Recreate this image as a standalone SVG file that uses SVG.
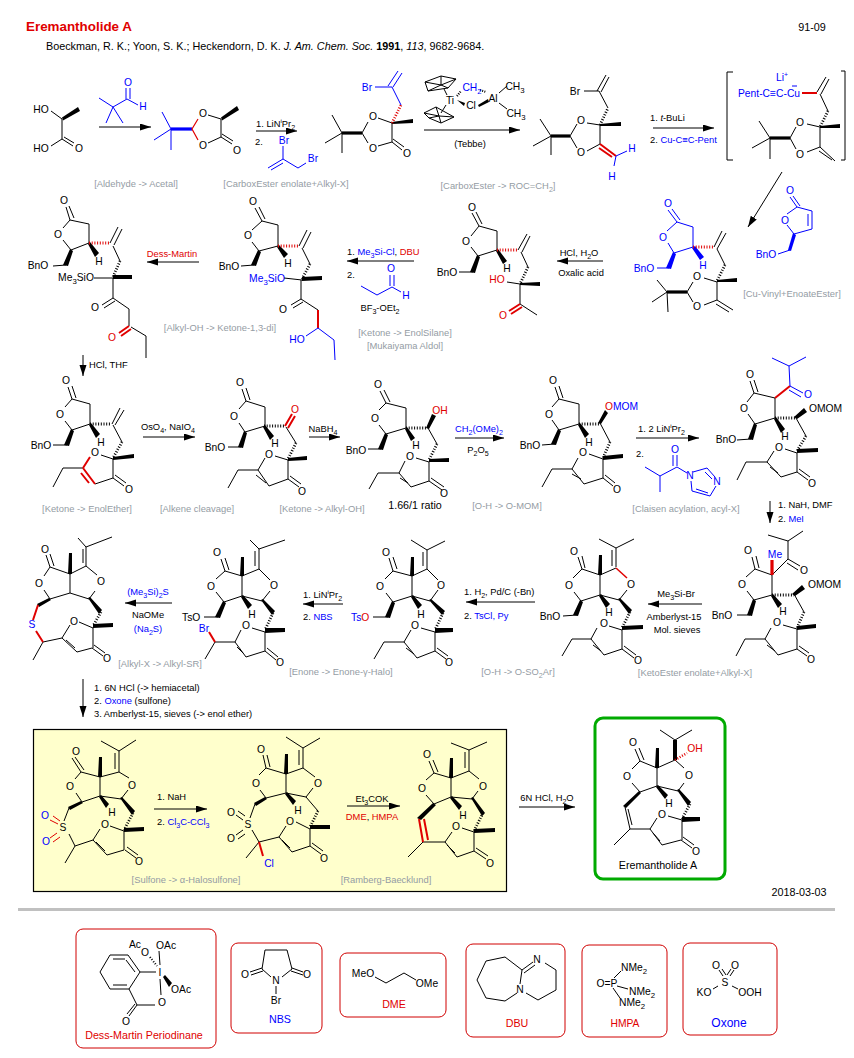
<svg xmlns="http://www.w3.org/2000/svg" width="854" height="1058" viewBox="0 0 854 1058">
<defs>
<marker id="ah" markerUnits="userSpaceOnUse" markerWidth="12" markerHeight="8" refX="11" refY="3.5" orient="auto"><path class="ah" d="M0 0L11 3.5L0 7Z"/></marker>
</defs>
<style>
text{font-family:"Liberation Sans",Arial,sans-serif;font-size:10.3px;fill:#000}
.a{text-anchor:middle}
.g{fill:#949ca4;text-anchor:middle;font-size:9.4px}
.c text{font-size:9.35px}
.hd{font-size:10.8px}
.L{font-size:10.7px}
.B{fill:#00f}.R{fill:#e00000}
.s{font-size:76%;baseline-shift:-3px}
.u{font-size:66%;baseline-shift:4px}
path{fill:none;stroke:#000;stroke-width:1}
path.ah{fill:#000;stroke:none}
path.w{fill:#000;stroke:none}
path.h{stroke-width:2.8;stroke-dasharray:1 1.7}
path.t{stroke-width:3.2}
path.b{stroke:#00f}path.bt{stroke:#00f;stroke-width:3.2}
path.r{stroke:#e00000;stroke-width:2}
path.rt{stroke:#e00000;stroke-width:3.2}
path.rh{stroke:#e00000;stroke-width:2.8;stroke-dasharray:1 1.7}
path.rn{stroke:#e00000;stroke-width:1}
path.ar{marker-end:url(#ah)}
rect.box{fill:#fff;stroke:#d00000;stroke-width:1}
</style>
<rect width="854" height="1058" fill="#fff"/>
<g id="header">
<text x="26" y="31" style="font-size:13.4px;font-weight:bold;fill:#e00000">Eremantholide A</text>
<text x="46" y="50" class="hd">Boeckman, R. K.; Yoon, S. K.; Heckendorn, D. K. <tspan font-style="italic">J. Am. Chem. Soc.</tspan> <tspan font-weight="bold">1991</tspan>, <tspan font-style="italic">113</tspan>, 9682-9684.</text>
<text x="812" y="31" class="a hd">91-09</text>
<text x="799" y="896" class="a hd">2018-03-03</text>
<rect x="18" y="908" width="817" height="3" fill="#c0c0c0"/>
</g>
<g id="yellow-box"><rect x="33.500" y="729.500" width="473" height="162" fill="#ffffcc" stroke="#000" stroke-width="1.200"/></g>
<g id="connectors">
<path class="ar" d="M99 127H151"/>
<path class="ar" d="M256 131H297"/>
<path class="ar" d="M424 130H520"/>
<path class="ar" d="M653 128H714"/>
<path class="ar" d="M782 172L748 227"/>
<path class="ar" d="M603 261H557"/>
<path class="ar" d="M414 261H347"/>
<path class="ar" d="M199 262H147"/>
<path class="ar" d="M83 355V376"/>
<path class="ar" d="M143 437H195"/>
<path class="ar" d="M309 437H340"/>
<path class="ar" d="M455 438H504"/>
<path class="ar" d="M636 438H699"/>
<path class="ar" d="M770 501V523"/>
<path class="ar" d="M702 604H648"/>
<path class="ar" d="M535 602H466"/>
<path class="ar" d="M343 604H303"/>
<path class="ar" d="M172 603H125"/>
<path class="ar" d="M83 679V717"/>
<path class="ar" d="M154 809H207"/>
<path class="ar" d="M347 806H400"/>
<path class="ar" d="M519 807H575"/>
</g>
<g id="conditions" class="c">
<text x="256" y="127">1. LiN<tspan class="u">i</tspan>Pr<tspan class="s">2</tspan></text>
<text x="255" y="145">2.</text>
<text x="470" y="147" class="a">(Tebbe)</text>
<text x="650" y="121">1. <tspan font-style="italic">t</tspan>-BuLi</text>
<text x="650" y="143">2. <tspan class="B">Cu-C≡C-Pent</tspan></text>
<text x="579" y="256" class="a">HCl, H<tspan class="s">2</tspan>O</text>
<text x="581" y="276" class="a">Oxalic acid</text>
<text x="347" y="255">1. <tspan class="B">Me<tspan class="s">3</tspan>Si-Cl</tspan>,  <tspan class="R">DBU</tspan></text>
<text x="347" y="278">2.</text>
<text x="380" y="311" class="a">BF<tspan class="s">3</tspan>-OEt<tspan class="s">2</tspan></text>
<text x="172" y="257" class="a R">Dess-Martin</text>
<text x="89" y="368">HCl, THF</text>
<text x="168" y="430" class="a">OsO<tspan class="s">4</tspan>, NaIO<tspan class="s">4</tspan></text>
<text x="323" y="432" class="a">NaBH<tspan class="s">4</tspan></text>
<text x="479" y="432" class="a B">CH<tspan class="s">2</tspan>(OMe)<tspan class="s">2</tspan></text>
<text x="478" y="453" class="a">P<tspan class="s">2</tspan>O<tspan class="s">5</tspan></text>
<text x="638" y="432">1. 2 LiN<tspan class="u">i</tspan>Pr<tspan class="s">2</tspan></text>
<text x="636" y="457">2.</text>
<text x="778" y="508">1. NaH, DMF</text>
<text x="778" y="522">2. <tspan class="B">MeI</tspan></text>
<text x="676" y="597" class="a">Me<tspan class="s">3</tspan>Si-Br</text>
<text x="674" y="620" class="a">Amberlyst-15</text>
<text x="677" y="633" class="a">Mol. sieves</text>
<text x="464" y="595">1. H<tspan class="s">2</tspan>, Pd/C (-Bn)</text>
<text x="464" y="619">2. <tspan class="B">TsCl, Py</tspan></text>
<text x="303" y="598">1. LiN<tspan class="u">i</tspan>Pr<tspan class="s">2</tspan></text>
<text x="303" y="620">2. <tspan class="B">NBS</tspan></text>
<text x="148" y="595" class="a B">(Me<tspan class="s">3</tspan>Si)<tspan class="s">2</tspan>S</text>
<text x="148" y="618" class="a">NaOMe</text>
<text x="148" y="632" class="a B">(Na<tspan class="s">2</tspan>S)</text>
<text x="94" y="691">1. 6N HCl (-&gt; hemiacetal)</text>
<text x="94" y="704">2. <tspan class="B">Oxone</tspan> (sulfone)</text>
<text x="94" y="717">3. Amberlyst-15, sieves (-&gt; enol ether)</text>
<text x="157" y="800">1. NaH</text>
<text x="157" y="825">2. <tspan class="B">Cl<tspan class="s">3</tspan>C-CCl<tspan class="s">3</tspan></tspan></text>
<text x="372" y="802" class="a">Et<tspan class="s">3</tspan>COK</text>
<text x="372" y="820" class="a"><tspan class="R">DME</tspan>, <tspan class="R">HMPA</tspan></text>
<text x="547" y="801" class="a">6N HCl, H<tspan class="s">2</tspan>O</text>
</g>
<text x="415" y="509" class="a L">1.66/1 ratio</text>
<g id="transform-labels">
<text x="136" y="187" class="g">[Aldehyde -&gt; Acetal]</text>
<text x="286" y="187" class="g">[CarboxEster enolate+Alkyl-X]</text>
<text x="498" y="189" class="g">[CarboxEster -&gt; ROC=CH<tspan class="s">2</tspan>]</text>
<text x="792" y="297" class="g">[Cu-Vinyl+EnoateEster]</text>
<text x="220" y="331" class="g">[Alkyl-OH -&gt; Ketone-1,3-di]</text>
<text x="405" y="336" class="g">[Ketone -&gt; EnolSilane]</text>
<text x="405" y="349" class="g">[Mukaiyama Aldol]</text>
<text x="87" y="512" class="g">[Ketone -&gt; EnolEther]</text>
<text x="197" y="512" class="g">[Alkene cleavage]</text>
<text x="322" y="512" class="g">[Ketone -&gt; Alkyl-OH]</text>
<text x="507" y="509" class="g">[O-H -&gt; O-MOM]</text>
<text x="686" y="512" class="g">[Claisen acylation, acyl-X]</text>
<text x="695" y="676" class="g">[KetoEster enolate+Alkyl-X]</text>
<text x="518" y="675" class="g">[O-H -&gt; O-SO<tspan class="s">2</tspan>Ar]</text>
<text x="341" y="675" class="g">[Enone -&gt; Enone-γ-Halo]</text>
<text x="160" y="667" class="g">[Alkyl-X -&gt; Alkyl-SR]</text>
<text x="186" y="883" class="g">[Sulfone -&gt; α-Halosulfone]</text>
<text x="386" y="883" class="g">[Ramberg-Baecklund]</text>
</g>
<g id="m1">
<path d="M51 111L62 119V139L51 146M62 139L73 146M64 137L74 143"/>
<path class="w" d="M62 117.500L78 107L80 111L63 120.500Z"/>
<text x="41" y="113" class="a">HO</text><text x="41" y="152" class="a">HO</text><text x="79" y="152" class="a">O</text>
</g>
<g id="r1">
<path class="b" d="M99 98L113 107L106 123M113 107L123 123M113 107L127 99L138 105M126 99V88M130 99V88"/>
<text x="128" y="86" class="a B">O</text><text x="143" y="110" class="a B">H</text>
</g>
<g id="m2">
<path class="b" d="M162 112L171 129L154 140M171 129V150"/>
<path class="bt" d="M171 129H192"/>
<path class="rn" style="stroke-width:1.2" d="M198 119L192 129L198 140"/>
<path d="M208 115L221 119V137L208 143M221 137L232 144M222 134L233 141"/>
<path class="w" d="M221 117.500L237 106L239 110L222 120.500Z"/>
<text x="203" y="117" class="a">O</text><text x="203" y="149" class="a">O</text><text x="237" y="154" class="a">O</text>
</g>
<g id="r2">
<path class="b" d="M283 146V159L298 168L306 163M283 159L268 168M283 163L271 170"/>
<text x="284" y="144" class="a B">Br</text><text x="313" y="162" class="a B">Br</text>
</g>
<g id="m3">
<path d="M332 115L342 133L325 143M342 133V153M362 133L368 122M362 133L368 143M378 118L392 123V142L378 146M392 142L402 150M393 139L404 147"/>
<path class="t" d="M342 133H362"/>
<path class="w" d="M392 122L413 119V123L392 124Z"/>
<path class="rh" d="M392 123L401 105"/>
<path class="b" d="M401 105L392 87H375M388 86L398 71M393 87L402 73"/>
<text x="367" y="91" class="a B">Br</text>
<text x="373" y="120" class="a">O</text><text x="373" y="152" class="a">O</text><text x="407" y="157" class="a">O</text>
</g>
<g id="r3-tebbe">
<path d="M425 82L441 76L456 79L448 88L428 91ZM441 76L441 85M425 82L441 85M456 79L441 85M448 88L441 85M428 91L441 85"/>
<path d="M424 113L436 107L454 117L441 123L429 118ZM436 107L439 116M424 113L439 116M454 117L439 116M441 123L439 116M429 118L439 116"/>
<path d="M447 95L444 89M446 105L441 113M499 93L507 86M499 103L507 109"/>
<path d="M457 96L461 91M480 90L486 92" stroke-dasharray="1 1.3" style="stroke-width:2.2"/>
<path class="w" d="M457 100L465 103L464 106ZM488 99L489 102L479 107L478 105Z"/>
<text x="450" y="104" class="a">Ti</text>
<text x="472" y="91" class="a B">CH<tspan class="s">2</tspan></text>
<text x="471" y="109" class="a">Cl</text>
<text x="493" y="102" class="a">Al</text>
<text x="515" y="90" class="a">CH<tspan class="s">3</tspan></text>
<text x="516" y="117" class="a">CH<tspan class="s">3</tspan></text>
</g>
<g id="m4">
<path d="M540 119L551 136L533 146M551 136V155M570 136L577 124M570 136L577 148M587 123L600 125V144L587 151M599 91L584 91M597 91L606 75M601 92L609 77M608 108L599 91"/>
<path class="t" d="M551 136H570"/>
<path class="w" d="M600 124L621 122V126L600 126Z"/>
<path class="h" d="M600 125L608 108"/>
<path class="r" d="M600 144L616 156M599 148L612 157"/>
<path class="b" d="M616 156L627 151M616 156L614 166"/>
<text x="575" y="95" class="a">Br</text>
<text x="581" y="124" class="a">O</text><text x="581" y="156" class="a">O</text>
<text x="632" y="152" class="a B">H</text><text x="612" y="180" class="a B">H</text>
</g>
<g id="m5-bracket">
<path d="M733 72H727V160H733M841 71H845V160H841M759 121L770 138L752 148M770 138V159M790 138L796 127M790 138L796 149M807 124L820 127V147L807 152M820 147L835 161M819 151L832 160"/>
<path d="M817 92L826 77M821 94L829 79M820 94L828 111"/>
<path class="t" d="M770 138H790"/>
<path class="w" d="M820 126L840 124V128L820 128Z"/>
<path class="h" d="M828 111L820 127"/>
<path class="r" d="M802 93H817"/>
<path class="b" d="M792 86H797"/>
<text x="782" y="81" class="a B">Li<tspan class="u">+</tspan></text>
<text x="738" y="97" class="B">Pent-C≡C-Cu</text>
<text x="800" y="126" class="a">O</text><text x="800" y="158" class="a">O</text>
</g>
<g id="r5">
<path class="b" d="M790 197L797 207L812 211V229L794 234L787 225M787 214L797 207M793 196L800 206M808 214V226M790 250L778 254"/>
<path class="w" style="fill:#00f" d="M793 233L796 235L791 251L788 250Z"/>
<text x="790" y="194" class="a B">O</text><text x="785" y="224" class="a B">O</text><text x="766" y="258" class="a B">BnO</text>
</g>
<g id="m6">
<path class="b" d="M668 210L677 222L693 227V247L674 253L668 243M667 231L677 222M672 209L680 220M669 268L657 268"/>
<path class="w" style="fill:#00f" d="M673 252L676 254L671 269L666 268ZM692 248L695 246L704 257L700 260Z"/>
<path class="rh" d="M693 247H714"/>
<path d="M714 247L722 231M717 249L726 233M717 249L725 265M704 278L717 282V300L704 305M717 300L733 310M716 304L729 312M657 280L667 292L652 302M667 292L668 312M687 292L693 282M687 292L693 302"/>
<path class="t" d="M667 292H687"/>
<path class="w" d="M717 280L737 278V282L717 282Z"/>
<path class="h" d="M725 265L717 281"/>
<text x="668" y="207" class="a B">O</text><text x="663" y="241" class="a B">O</text><text x="644" y="272" class="a B">BnO</text><text x="703" y="269" class="a B">H</text>
<text x="697" y="280" class="a">O</text><text x="697" y="310" class="a">O</text>
</g>
<g id="m7">
<path d="M472 213L479 226L497 231V250L478 256L471 247M471 236L479 226M476 212L482 224M473 272L459 272M521 252L528 267M518 250L527 234M522 252L530 236M507 282L520 284V304M520 304L537 315"/>
<path class="w" d="M477 255L480 257L475 273L470 272ZM496 251L498 249L507 261L503 264ZM520 283L540 282V286L520 285Z"/>
<path class="h" d="M528 267L520 284"/>
<path class="rh" d="M497 250H518"/>
<path class="r" d="M520 304L509 311M522 307L511 314"/>
<text x="472" y="211" class="a">O</text><text x="466" y="245" class="a">O</text><text x="447" y="276" class="a">BnO</text><text x="507" y="272" class="a">H</text>
<text x="497" y="283" class="a R">HO</text><text x="503" y="319" class="a R">O</text>
</g>
<g id="r7">
<path class="b" d="M361 286L377 295L392 287L401 292M390 286V275M394 286V275"/>
<text x="391" y="272" class="a B">O</text><text x="406" y="299" class="a B">H</text>
</g>
<g id="m8">
<path d="M255 208L262 221L278 225V246L259 251L252 242M252 230L262 221M259 207L265 219M254 265L241 266M299 246L307 230M303 248L311 232M302 248L310 264M284 278L302 280M301 280V299M301 299L291 305M303 302L293 308M301 299L318 310"/>
<path class="w" d="M258 250L261 252L256 266L251 265ZM277 247L279 245L288 254L284 258ZM302 277L322 276V280L302 281Z"/>
<path class="h" d="M310 264L302 279"/>
<path class="rh" d="M278 246H299"/>
<path class="rt" style="stroke-width:2" d="M318 310V328"/>
<path class="b" d="M318 328L334 340L335 360M306 336L318 328"/>
<text x="253" y="205" class="a">O</text><text x="248" y="239" class="a">O</text><text x="229" y="270" class="a">BnO</text><text x="288" y="267" class="a">H</text>
<text x="267" y="282" class="a B">Me<tspan class="s">3</tspan>SiO</text><text x="283" y="313" class="a">O</text><text x="297" y="343" class="a B">HO</text>
</g>
<g id="m9">
<path d="M66 207L70 220L89 224V243L71 250L63 240M63 228L70 220M69 206L74 218M66 265L53 266M110 243L118 227M114 245L122 229M113 246L120 261M94 278L113 278V298M113 298L102 305M115 301L104 308M113 298L129 309V326M131 327L146 336V358"/>
<path class="w" d="M70 249L73 251L68 266L63 265ZM88 244L90 242L99 253L95 257ZM113 275L132 275V279L113 279Z"/>
<path class="h" d="M120 261L113 277"/>
<path class="rh" d="M89 243H110"/>
<path class="r" d="M129 326L119 333M131 329L121 336"/>
<text x="64" y="204" class="a">O</text><text x="58" y="238" class="a">O</text><text x="38" y="269" class="a">BnO</text><text x="99" y="265" class="a">H</text>
<text x="76" y="281" class="a">Me<tspan class="s">3</tspan>SiO</text><text x="95" y="311" class="a">O</text><text x="112" y="341" class="a R">O</text>
</g>
<g id="m10">
<path d="M68 387L72 399L90 404V424L72 430L65 421M65 407L72 399M72 386L76 398M67 445L53 445M112 424L120 408M115 425L124 410M113 425L122 442M101 455L113 459V478M113 478L124 486M115 475L126 483M113 478L95 484M83 468L63 468L53 487"/>
<path class="w" d="M71 429L74 431L69 446L64 445ZM89 425L91 423L100 434L96 438ZM113 457L134 454V458L113 460Z"/>
<path class="h" d="M122 442L113 458M90 424H111"/>
<path class="r" d="M95 484L83 468M89 483L81 473M83 468L90 457"/>
<text x="66" y="384" class="a">O</text><text x="60" y="418" class="a">O</text><text x="41" y="449" class="a">BnO</text><text x="101" y="446" class="a">H</text>
<text x="95" y="456" class="a">O</text><text x="129" y="493" class="a">O</text>
</g>
<g id="m11">
<path d="M242 389L246 401L265 407V426L245 432L239 423M239 409L246 401M246 388L250 400M241 447L228 447M286 427L296 443M275 456L288 460V479M288 479L299 487M290 476L301 484M288 479L269 486L258 470M266 483L256 475M258 470L265 458M258 470H238L228 488"/>
<path class="w" d="M244 431L247 433L243 448L238 447ZM263 427L265 425L274 436L270 440ZM288 458L307 456V460L288 461Z"/>
<path class="h" d="M296 443L288 459M264 426H285"/>
<path class="r" d="M285 426L292 414M288 428L295 416"/>
<text x="240" y="386" class="a">O</text><text x="234" y="420" class="a">O</text><text x="215" y="451" class="a">BnO</text><text x="275" y="447" class="a">H</text>
<text x="295" y="413" class="a R">O</text><text x="269" y="458" class="a">O</text><text x="302" y="495" class="a">O</text>
</g>
<g id="m12">
<path d="M380 391L386 403L406 408V428L386 434L379 425M379 410L386 403M384 390L390 402M381 449L368 449M428 428L437 444M416 458L429 462V481M429 481L442 490M431 478L444 487M429 481L411 487L399 473M408 483L400 478M399 473L405 461M399 473H378L369 489"/>
<path class="w" d="M385 433L388 435L383 450L378 449ZM405 429L407 427L415 438L411 441ZM426 428L432 414L436 416L429 429ZM429 459L449 458V462L429 462Z"/>
<path class="h" d="M437 444L429 460M406 428H427"/>
<text x="378" y="388" class="a">O</text><text x="375" y="422" class="a">O</text><text x="356" y="454" class="a">BnO</text><text x="416" y="449" class="a">H</text>
<text x="440" y="414" class="a R">OH</text><text x="410" y="460" class="a">O</text><text x="444" y="497" class="a">O</text>
</g>
<g id="m13">
<path d="M555 387L559 399L579 404V424L559 430L552 420M552 407L559 399M559 386L563 398M555 444L542 445M600 423L610 442M589 454L603 459V478M603 478L613 486M605 475L615 483M603 478L584 484L572 469M581 479L572 474M572 469L578 458M572 469H552L542 487"/>
<path class="w" d="M558 429L561 431L556 445L551 444ZM578 425L580 423L589 434L585 438ZM598 423L605 410L608 413L601 424ZM603 456L623 454V458L603 460Z"/>
<path class="h" d="M610 442L603 458M579 424H600"/>
<text x="553" y="384" class="a">O</text><text x="549" y="418" class="a">O</text><text x="530" y="449" class="a">BnO</text><text x="589" y="446" class="a">H</text>
<text x="605" y="410"><tspan class="R">O</tspan><tspan class="B">MOM</tspan></text><text x="583" y="456" class="a">O</text><text x="617" y="493" class="a">O</text>
</g>
<g id="r13">
<path class="b" d="M645 467L660 476V492M660 476L677 467L687 473M673 466V455M677 466V455M693 472L707 468L715 477M716 486L710 496L692 491L691 481M705 472L712 479M696 489L708 493"/>
<text x="675" y="453" class="a B">O</text><text x="690" y="479" class="a B">N</text><text x="717" y="485" class="a B">N</text>
</g>
<g id="m14">
<path d="M750 381L754 393L775 398V418L755 424L748 414M747 402L754 393M754 380L758 392M751 439L737 440M796 418L806 436M785 449L797 453V472M797 472L808 480M799 469L810 477M797 472L781 477L767 462M778 473L770 467M767 462L774 451M767 462H746L737 480"/>
<path class="w" d="M754 423L757 425L753 440L748 439ZM774 419L776 417L785 429L781 433ZM794 417L804 408L807 412L797 419ZM797 449L818 448V452L797 453Z"/>
<path class="h" d="M806 436L797 451M775 418H796"/>
<path class="r" d="M775 398L790 386"/>
<path class="b" d="M790 386L789 366L772 358M789 366L806 357M790 386L803 393M789 390L801 397"/>
<text x="750" y="378" class="a">O</text><text x="744" y="412" class="a">O</text><text x="726" y="443" class="a">BnO</text><text x="785" y="440" class="a">H</text>
<text x="809" y="412">OMOM</text><text x="808" y="398" class="a B">O</text><text x="779" y="451" class="a">O</text><text x="812" y="487" class="a">O</text>
</g>
<g id="m15">
<path d="M752 557L755 569L772 575V595L754 600L747 591M746 577L755 569M756 556L759 568M750 615L737 615M794 594L804 612M783 625L797 629V649M797 649L807 656M799 646L809 653M797 649L778 655L765 639M775 651L767 645M765 639L771 628M765 639H745L736 656M772 575L788 559M788 559L800 566M787 563L798 570M788 559V541L768 535M788 541L803 531"/>
<path class="w" d="M753 599L756 601L752 616L747 615ZM771 596L773 594L782 604L778 608ZM792 594L802 585L805 589L795 596ZM797 626L816 624V628L797 630Z"/>
<path class="h" d="M804 612L797 628M772 595H794"/>
<path class="rt" d="M772 575V560"/>
<text x="748" y="554" class="a">O</text><text x="742" y="588" class="a">O</text><text x="722" y="619" class="a">BnO</text><text x="783" y="615" class="a">H</text>
<text x="775" y="558" class="a B">Me</text><text x="808" y="588">OMOM</text><text x="804" y="574" class="a">O</text><text x="777" y="626" class="a">O</text><text x="811" y="663" class="a">O</text>
</g>
<g id="m16">
<path d="M578 557L582 569L600 575V595L581 601L574 592M573 578L582 569M582 556L585 568M577 615L563 616M600 575L616 568M627 590L619 600L600 595M616 567V548M612 566V550M616 548L599 539M616 548L634 539M609 626L622 630V649M622 649L634 658M624 646L636 655M622 649L604 655L591 639M601 651L593 645M591 639L597 628M591 639H572L562 656"/>
<path class="w" d="M580 600L583 602L578 616L573 615ZM599 596L601 594L610 604L606 608ZM598 575L599 555H602L602 575ZM618 599L620 598L632 610L629 614ZM622 626L643 625V629L622 630Z"/>
<path class="h" d="M630 612L622 628"/>
<path class="rn" style="stroke-width:1.5" d="M616 568L627 578"/>
<text x="574" y="555" class="a">O</text><text x="569" y="589" class="a">O</text><text x="550" y="620" class="a">BnO</text><text x="609" y="616" class="a">H</text>
<text x="631" y="588" class="a">O</text><text x="604" y="627" class="a">O</text><text x="638" y="664" class="a">O</text>
</g>
<g id="m17">
<path d="M389 558L393 571L412 576V596L393 602L386 593M385 579L393 571M393 557L397 569M388 617L373 617M412 576L427 569L438 580M438 590L430 601L412 596M427 569V550M423 566V552M427 550L411 540M427 550L445 541M421 628L435 632V651M435 651L446 659M437 648L448 656M435 651L417 658L404 642M414 654L406 648M404 642L411 630M404 642H384L374 659"/>
<path class="w" d="M392 601L395 603L390 618L385 617ZM411 597L413 595L422 605L418 609ZM410 576L411 557H414L414 576ZM429 600L431 599L445 611L442 615ZM435 628L453 628V632L435 633Z"/>
<path class="h" d="M443 613L435 630"/>
<text x="386" y="556" class="a">O</text><text x="380" y="590" class="a">O</text><text x="351" y="621"><tspan class="B">Ts</tspan><tspan class="R">O</tspan></text><text x="421" y="618" class="a">H</text>
<text x="441" y="589" class="a">O</text><text x="415" y="629" class="a">O</text><text x="449" y="666" class="a">O</text>
</g>
<g id="m18">
<path d="M221 559L225 571L242 576V596L224 602L216 592M216 579L225 571M225 558L229 570M218 617L204 617M242 576L259 569L270 580M270 591L262 601L242 596M259 569V549M255 566V551M259 549L250 540M259 549L285 540M252 628L265 632V651M265 651L276 660M267 648L278 657M265 651L246 657L235 642M243 653L237 647M235 642L241 630M235 642H215L205 659"/>
<path class="w" d="M223 601L226 603L220 618L215 617ZM241 597L243 595L252 605L248 609ZM240 576L241 557H244L244 576ZM261 600L263 599L275 611L272 615ZM265 628L285 628V632L265 633Z"/>
<path class="h" d="M273 613L265 630"/>
<path class="r" d="M215 642L209 632"/>
<text x="217" y="556" class="a">O</text><text x="211" y="590" class="a">O</text><text x="182" y="621">TsO</text><text x="252" y="618" class="a">H</text>
<text x="204" y="632" class="a B">Br</text><text x="274" y="589" class="a">O</text><text x="246" y="629" class="a">O</text><text x="280" y="666" class="a">O</text>
</g>
<g id="m19">
<path d="M46 555L50 567L70 574V593L50 599L44 590M44 576L50 567M50 554L54 566M70 574L86 566L97 575M95 591L89 599L70 593M86 566V547M83 563V549M86 547L78 538M86 547L112 537M43 642L62 638L70 625M79 622L93 628V648M92 648L103 656M94 645L105 653M92 648L77 652L62 638M75 648L66 640M43 642L33 660"/>
<path class="w" d="M49 598L51 600L39 607L37 604ZM68 574L69 553H72L72 574ZM88 598L90 597L102 610L99 614ZM93 624L113 623V627L93 628Z"/>
<path class="h" d="M101 612L93 626"/>
<path class="r" d="M38 605L33 620M36 631L43 642"/>
<text x="45" y="553" class="a">O</text><text x="39" y="587" class="a">O</text><text x="32" y="628" class="a B">S</text>
<text x="74" y="625" class="a">O</text><text x="101" y="585" class="a">O</text><text x="107" y="662" class="a">O</text>
</g>
<g id="m20">
<path d="M72 758L81 772L100 777V796L82 802L76 793M75 779L81 772M75 757L84 770M69 808L64 821M69 834L75 846L65 863M75 846L93 840L100 829M110 826L124 831V850M125 850L136 858M127 847L138 855M124 850L107 855L93 840M105 851L96 842M100 777L119 772L129 778M128 790L121 799L100 796M119 772V751M115 769V753M119 751L101 741M119 751L136 740"/>
<path class="w" d="M81 801L83 803L70 810L68 807ZM98 777L99 757H102L102 777ZM99 797L101 795L109 804L106 808ZM120 798L122 797L135 811L132 815ZM124 828L144 827V831L124 832Z"/>
<path class="h" d="M133 813L124 830"/>
<path class="rn" d="M50 820L58 824M53 816L60 821M50 838L57 833M53 842L60 837"/>
<text x="63" y="831" class="a">S</text><text x="76" y="755" class="a">O</text><text x="70" y="790" class="a">O</text>
<text x="45" y="819" class="a B">O</text><text x="46" y="845" class="a B">O</text><text x="112" y="816" class="a">H</text>
<text x="105" y="828" class="a">O</text><text x="132" y="789" class="a">O</text><text x="139" y="865" class="a">O</text>
</g>
<g id="m21">
<path d="M263 755L266 768L286 774V793L266 798L260 790M259 775L266 768M267 755L270 767M255 804L250 818M252 830L259 842L246 858M259 842L279 837L286 826M296 822L310 829V846M310 846L321 854M312 843L323 851M310 846L292 852L279 837M290 848L282 840M286 774L303 768L315 777M313 788L306 797L286 793M303 768V748M299 765V750M303 748L286 737M303 748L320 738M306 797L318 811"/>
<path class="w" d="M265 797L267 799L256 806L254 803ZM284 774L285 754H288L288 774ZM285 794L287 792L296 801L293 805ZM310 825L330 825V829L310 829Z"/>
<path class="h" d="M318 811L310 827"/>
<path class="r" d="M259 842L263 856"/>
<path d="M236 815L243 820M238 811L245 816M236 835L243 830M238 839L245 834"/>
<text x="248" y="828" class="a">S</text><text x="261" y="753" class="a">O</text><text x="256" y="787" class="a">O</text>
<text x="231" y="816" class="a">O</text><text x="231" y="842" class="a">O</text><text x="298" y="814" class="a">H</text>
<text x="269" y="867" class="a B">Cl</text><text x="290" y="825" class="a">O</text><text x="318" y="787" class="a">O</text><text x="324" y="862" class="a">O</text>
</g>
<g id="m22">
<path d="M429 761L434 773L451 778V797L434 804L426 795M426 780L434 773M433 760L438 772M423 842L408 857M423 842H445L452 832M462 828L474 832V851M474 851L486 859M476 848L488 856M474 851L457 857L445 842M455 853L447 845M451 778L469 771L479 779M478 791L472 799L451 797M469 771V750M465 768V752M469 750L451 743M469 750L487 742"/>
<path class="w" d="M433 803L436 805L421 820L417 818ZM449 778L450 758H453L453 778ZM450 798L452 796L462 806L459 810ZM471 798L473 797L485 813L482 816ZM474 829L495 828V832L474 833Z"/>
<path class="h" d="M483 813L474 831"/>
<path class="r" d="M419 819L423 842M424 819L428 840"/>
<text x="427" y="758" class="a">O</text><text x="422" y="792" class="a">O</text><text x="463" y="819" class="a">H</text>
<text x="456" y="830" class="a">O</text><text x="483" y="790" class="a">O</text><text x="490" y="867" class="a">O</text>
</g>
<g id="product">
<rect x="595" y="718" width="130" height="161" rx="8" fill="#fff" stroke="#00aa00" stroke-width="3"/>
<path d="M635 749L640 761L657 768V786L640 792L632 783M632 769L640 761M639 748L644 760M625 807L630 829L614 845M628 809L632 825M630 829H650L657 818M668 816L682 820V840M681 840L692 848M683 837L694 845M681 840L662 845L650 829M660 841L653 833M657 768L675 760L684 768M684 783L678 791L657 786M675 740L660 730M675 740L692 730"/>
<path class="w" d="M639 791L641 793L626 808L623 806ZM655 768L656 748H659L659 768ZM656 787L658 785L668 795L665 799ZM677 790L679 789L691 802L688 806ZM682 817L700 817V821L682 822ZM673 760L673 740H677L677 760Z"/>
<path class="h" d="M690 804L682 819"/>
<path class="rh" style="stroke-width:2.5" d="M675 760L687 753"/>
<text x="633" y="746" class="a">O</text><text x="627" y="780" class="a">O</text><text x="669" y="807" class="a">H</text>
<text x="695" y="752" class="a R">OH</text><text x="662" y="818" class="a">O</text><text x="689" y="779" class="a">O</text><text x="696" y="855" class="a">O</text>
<text x="658" y="869" class="a L">Eremantholide A</text>
</g>
<g id="dmp">
<rect class="box" x="76" y="929" width="140" height="119" rx="7"/>
<path d="M100 972L110 955H128L140 972L129 989H110ZM113 959H125M135 972L126 960M127 985H113M140 972H156M129 989L137 1005H155M137 1005L129 1016M135 1004L127 1014M160 979L161 995M160 965L159 951"/>
<path class="h" style="stroke-width:2" d="M150 957L157 966"/>
<path class="w" d="M163 977L165 975L172 983L169 987Z"/>
<text x="160" y="976" class="a">I</text><text x="156" y="949">OAc</text><text x="135" y="948" class="a">Ac</text><text x="145" y="956" class="a">O</text><text x="171" y="993">OAc</text><text x="162" y="1006" class="a">O</text><text x="126" y="1025" class="a">O</text>
<text x="144" y="1039" class="a R L">Dess-Martin Periodinane</text>
</g>
<g id="nbs">
<rect class="box" x="231" y="943" width="91" height="90" rx="7"/>
<path d="M262 969L265 950H287L292 969M262 969L271 977M292 969L282 977M262 968L250 972M263 971L251 975M292 968L303 972M291 971L303 975M276 986V994"/>
<text x="276" y="984" class="a">N</text><text x="245" y="978" class="a">O</text><text x="307" y="978" class="a">O</text><text x="276" y="1004" class="a">Br</text>
<text x="280" y="1023" class="a B L">NBS</text>
</g>
<g id="dme">
<rect class="box" x="340" y="953" width="106" height="64" rx="7"/>
<path d="M375 977L386 983L404 973L416 980"/>
<text x="363" y="977" class="a">MeO</text><text x="427" y="987" class="a">OMe</text>
<text x="394" y="1008" class="a R L">DME</text>
</g>
<g id="dbu">
<rect class="box" x="466" y="944" width="99" height="93" rx="7"/>
<path d="M522 970L505 957L486 961L477 980L486 998L505 1001L517 993M520 984L522 970M522 970L533 962M524 973L535 965M545 963L556 970V990L538 1000L526 993"/>
<text x="537" y="963" class="a">N</text><text x="520" y="993" class="a">N</text>
<text x="517" y="1027" class="a R L">DBU</text>
</g>
<g id="hmpa">
<rect class="box" x="582" y="945" width="85" height="92" rx="7"/>
<path d="M614 978L621 971M617 986L628 989M613 988L620 998"/>
<text x="607" y="987" class="a">O=P</text><text x="621" y="971">NMe<tspan class="s">2</tspan></text><text x="629" y="995">NMe<tspan class="s">2</tspan></text><text x="619" y="1006">NMe<tspan class="s">2</tspan></text>
<text x="625" y="1027" class="a R">HMPA</text>
</g>
<g id="oxone">
<rect class="box" x="683" y="943" width="94" height="92" rx="7"/>
<path d="M723 976L719 970M726 975L722 969M727 975L731 969M730 976L734 970M718 986L713 989M732 986L738 989"/>
<text x="725" y="986" class="a">S</text><text x="716" y="969" class="a">O</text><text x="735" y="969" class="a">O</text><text x="704" y="996" class="a">KO</text><text x="750" y="996" class="a">OOH</text>
<text x="729" y="1027" class="a B" style="font-size:12px">Oxone</text>
</g>
</svg>
